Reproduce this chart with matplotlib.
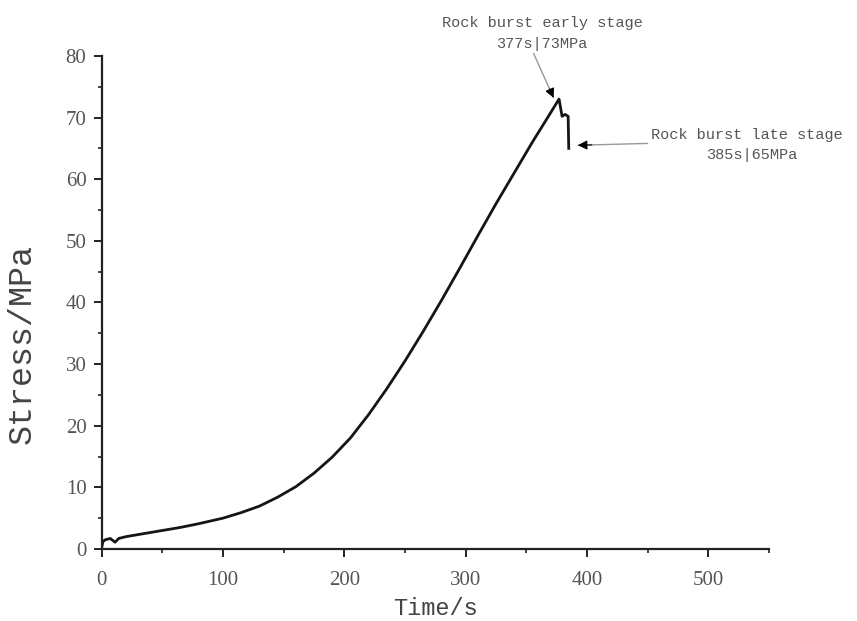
import matplotlib.pyplot as plt
from matplotlib.ticker import MultipleLocator

# stress-time record of the rock burst test
time_s = [0, 1, 3, 7, 11, 14, 20, 35, 50, 65, 80, 100, 115, 130, 145, 160,
          175, 190, 205, 220, 235, 250, 265, 280, 295, 310, 325, 340, 355,
          367, 377, 379.5, 382, 384.5, 385]
stress_mpa = [0.3, 1.2, 1.5, 1.7, 1.1, 1.7, 2.0, 2.5, 3.0, 3.5, 4.1, 5.0, 5.9,
              6.95, 8.4, 10.1, 12.3, 14.9, 18.0, 21.8, 26.0, 30.5, 35.3, 40.3,
              45.5, 50.8, 56.0, 61.0, 66.0, 69.8, 73.0, 70.2, 70.5, 70.2, 65.0]

x_ticks = [0, 100, 200, 300, 400, 500]
y_ticks = [0, 10, 20, 30, 40, 50, 60, 70, 80]

MONO = "Liberation Mono"
SERIF = "Liberation Serif"
GREY = "#555555"

fig = plt.figure(figsize=(8.57, 6.21), dpi=100)
ax = fig.add_axes([0.1187, 0.116, 0.7785, 0.794])

ax.plot(time_s, stress_mpa, color="#151515", lw=2.0,
        solid_joinstyle="round")

ax.set_xlim(0, 550)
ax.set_ylim(0, 80)
ax.set_xticks(x_ticks)
ax.set_yticks(y_ticks)
ax.xaxis.set_minor_locator(MultipleLocator(50))
ax.yaxis.set_minor_locator(MultipleLocator(5))

for side in ("top", "right"):
    ax.spines[side].set_visible(False)
for side in ("left", "bottom"):
    ax.spines[side].set_linewidth(1.6)
    ax.spines[side].set_color("#222222")

ax.tick_params(which="major", direction="out", length=6, width=1.4,
               color="#222222", labelsize=15, labelcolor=GREY)
ax.tick_params(which="minor", direction="out", length=3, width=1.2,
               color="#222222")
ax.tick_params(axis="x", which="major", pad=10)
ax.tick_params(axis="y", which="major", pad=5)
for lbl in ax.get_xticklabels() + ax.get_yticklabels():
    lbl.set_fontfamily(SERIF)

ax.set_xlabel("Time/s", fontfamily=MONO, fontsize=17, color="#444444",
              labelpad=5)
ax.set_ylabel("Stress/MPa", fontfamily=MONO, fontsize=24, color="#444444")
ax.yaxis.set_label_coords(-0.096, 0.415)

# annotations: grey shaft with a black head
def pointer(tail, tip):
    ax.annotate("", xy=tip, xytext=tail, annotation_clip=False,
                arrowprops=dict(arrowstyle="-", color="#999999", lw=1.0,
                                shrinkA=0, shrinkB=0))
    dx = (tip[0] - tail[0]) * 0.2
    dy = (tip[1] - tail[1]) * 0.2
    ax.annotate("", xy=tip, xytext=(tip[0] - dx, tip[1] - dy),
                annotation_clip=False,
                arrowprops=dict(arrowstyle="-|>", color="black", lw=0.8,
                                mutation_scale=14, shrinkA=0, shrinkB=0))

pointer((356, 80.4), (372.5, 73.2))
pointer((450, 65.8), (392.5, 65.5))

txt = dict(fontfamily=MONO, fontsize=11, color=GREY, ha="center",
           va="center", clip_on=False)
ax.text(363, 85.4, "Rock burst early stage", **txt)
ax.text(363, 82.0, "377s|73MPa", **txt)
ax.text(532, 67.1, "Rock burst late stage", **txt)
ax.text(536, 63.9, "385s|65MPa", **txt)

fig.savefig("out.png", dpi=100)
